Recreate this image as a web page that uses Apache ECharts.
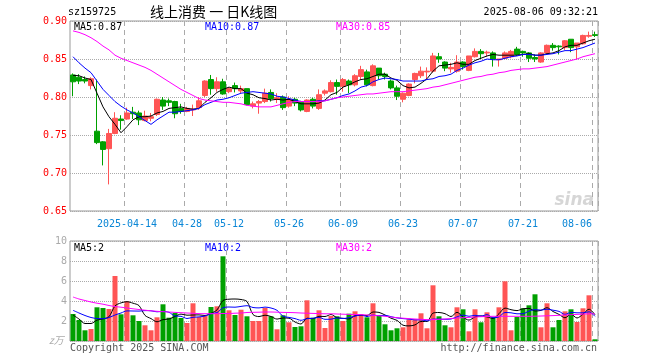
<!DOCTYPE html>
<html><head><meta charset="utf-8">
<script src="https://cdn.jsdelivr.net/npm/echarts@6/dist/echarts.min.js"></script>
<style>html,body{margin:0;padding:0;background:#fff}#c{width:660px;height:360px}</style>
</head><body><div id="c"></div>
<script>
const dates = ['2025-03-31','2025-04-01','2025-04-02','2025-04-03','2025-04-07','2025-04-08','2025-04-09','2025-04-10','2025-04-11',
'2025-04-14','2025-04-15','2025-04-16','2025-04-17','2025-04-18','2025-04-21','2025-04-22','2025-04-23','2025-04-24','2025-04-25',
'2025-04-28','2025-04-29','2025-04-30','2025-05-06','2025-05-07','2025-05-08','2025-05-09',
'2025-05-12','2025-05-13','2025-05-14','2025-05-15','2025-05-16','2025-05-19','2025-05-20','2025-05-21','2025-05-22','2025-05-23',
'2025-05-26','2025-05-27','2025-05-28','2025-05-29','2025-05-30','2025-06-03','2025-06-04','2025-06-05','2025-06-06',
'2025-06-09','2025-06-10','2025-06-11','2025-06-12','2025-06-13','2025-06-16','2025-06-17','2025-06-18','2025-06-19','2025-06-20',
'2025-06-23','2025-06-24','2025-06-25','2025-06-26','2025-06-27','2025-06-30','2025-07-01','2025-07-02','2025-07-03','2025-07-04',
'2025-07-07','2025-07-08','2025-07-09','2025-07-10','2025-07-11','2025-07-14','2025-07-15','2025-07-16','2025-07-17','2025-07-18',
'2025-07-21','2025-07-22','2025-07-23','2025-07-24','2025-07-25','2025-07-28','2025-07-29','2025-07-30','2025-07-31','2025-08-01',
'2025-08-04','2025-08-05','2025-08-06'];

const labelDates = ['2025-04-14','2025-04-28','2025-05-12','2025-05-26','2025-06-09','2025-06-23','2025-07-07','2025-07-21','2025-08-06'];

const opens = [0.829,0.826,0.823,0.815,0.755,0.741,0.732,0.752,0.771,0.771,0.780,0.779,0.769,0.772,0.777,0.796,0.795,0.794,0.785,0.781,
0.783,0.786,0.802,0.823,0.811,0.820,0.807,0.815,0.808,0.811,0.788,0.792,0.794,0.806,0.797,0.800,0.788,0.797,0.793,0.781,
0.797,0.785,0.805,0.807,0.819,0.814,0.821,0.816,0.827,0.833,0.815,0.838,0.830,0.821,0.812,0.797,0.802,0.823,0.828,0.833,
0.834,0.853,0.846,0.837,0.834,0.846,0.835,0.853,0.860,0.858,0.858,0.849,0.851,0.853,0.863,0.860,0.858,0.852,0.846,0.858,
0.868,0.867,0.865,0.876,0.866,0.870,0.880,0.882];
const closes = [0.820,0.821,0.821,0.824,0.740,0.731,0.752,0.772,0.769,0.779,0.778,0.770,0.775,0.774,0.797,0.788,0.793,0.778,0.781,0.785,
0.784,0.795,0.821,0.811,0.820,0.804,0.811,0.811,0.811,0.790,0.791,0.794,0.805,0.798,0.799,0.786,0.797,0.792,0.783,0.796,
0.788,0.803,0.808,0.819,0.814,0.823,0.816,0.828,0.836,0.816,0.841,0.828,0.827,0.812,0.801,0.805,0.817,0.831,0.834,0.834,
0.854,0.850,0.838,0.839,0.846,0.840,0.854,0.860,0.857,0.859,0.850,0.850,0.858,0.860,0.856,0.858,0.851,0.850,0.858,0.868,
0.865,0.866,0.874,0.865,0.871,0.881,0.881,0.881];
const lows = [0.801,0.817,0.818,0.810,0.738,0.710,0.685,0.751,0.757,0.770,0.771,0.763,0.768,0.768,0.775,0.783,0.788,0.772,0.778,0.780,
0.775,0.783,0.800,0.803,0.807,0.803,0.805,0.806,0.805,0.789,0.785,0.778,0.792,0.794,0.792,0.783,0.786,0.788,0.781,0.780,
0.785,0.783,0.802,0.806,0.803,0.807,0.805,0.814,0.823,0.814,0.814,0.823,0.823,0.810,0.796,0.793,0.801,0.818,0.825,0.823,
0.832,0.845,0.834,0.832,0.832,0.836,0.834,0.852,0.850,0.853,0.840,0.840,0.850,0.851,0.854,0.853,0.846,0.846,0.845,0.857,
0.861,0.856,0.862,0.859,0.850,0.869,0.878,0.879];
const highs = [0.831,0.830,0.827,0.826,0.823,0.742,0.758,0.780,0.776,0.786,0.787,0.782,0.782,0.779,0.798,0.800,0.798,0.795,0.791,0.787,
0.790,0.800,0.822,0.829,0.826,0.824,0.813,0.819,0.815,0.811,0.794,0.796,0.811,0.810,0.805,0.802,0.801,0.799,0.795,0.797,
0.799,0.810,0.810,0.822,0.823,0.825,0.823,0.830,0.841,0.836,0.843,0.838,0.832,0.823,0.815,0.806,0.818,0.832,0.840,0.839,
0.858,0.858,0.847,0.845,0.855,0.847,0.854,0.864,0.863,0.861,0.860,0.850,0.860,0.862,0.866,0.861,0.859,0.856,0.859,0.869,
0.871,0.868,0.875,0.876,0.871,0.882,0.886,0.886];

const ma5 = [0.8285,0.828,0.825,0.823,0.805,0.787,0.774,0.764,0.753,0.761,0.770,0.774,0.774,0.775,0.779,0.781,0.785,0.786,0.787,0.785,
0.784,0.785,0.793,0.799,0.806,0.810,0.813,0.811,0.811,0.805,0.803,0.799,0.798,0.796,0.797,0.796,0.797,0.794,0.791,0.791,
0.791,0.792,0.796,0.803,0.806,0.813,0.816,0.820,0.823,0.824,0.827,0.830,0.830,0.825,0.822,0.815,0.812,0.813,0.818,0.824,
0.834,0.841,0.842,0.843,0.845,0.843,0.843,0.848,0.851,0.854,0.856,0.855,0.855,0.855,0.855,0.856,0.857,0.855,0.855,0.857,
0.858,0.861,0.866,0.868,0.868,0.871,0.874,0.876];
const ma10 = [0.853,0.845,0.838,0.832,0.821,0.810,0.802,0.794,0.788,0.783,0.779,0.774,0.769,0.764,0.770,0.775,0.780,0.780,0.781,0.782,
0.783,0.785,0.790,0.793,0.796,0.797,0.799,0.802,0.805,0.806,0.807,0.806,0.805,0.804,0.801,0.800,0.798,0.796,0.794,0.794,
0.794,0.795,0.795,0.797,0.799,0.802,0.804,0.808,0.813,0.815,0.820,0.823,0.825,0.824,0.823,0.821,0.821,0.821,0.821,0.823,
0.824,0.827,0.828,0.830,0.835,0.838,0.842,0.845,0.847,0.850,0.849,0.849,0.851,0.853,0.854,0.856,0.856,0.855,0.855,0.856,
0.857,0.859,0.861,0.861,0.863,0.865,0.868,0.871];
const ma30 = [0.887,0.885,0.882,0.878,0.873,0.867,0.862,0.855,0.851,0.848,0.845,0.842,0.839,0.835,0.830,0.825,0.820,0.815,0.810,0.806,
0.802,0.798,0.796,0.795,0.794,0.793,0.793,0.792,0.791,0.789,0.788,0.787,0.787,0.787,0.789,0.791,0.793,0.794,0.794,0.794,
0.794,0.794,0.795,0.797,0.799,0.800,0.801,0.802,0.803,0.804,0.804,0.805,0.806,0.807,0.807,0.807,0.808,0.809,0.810,0.811,
0.813,0.814,0.816,0.818,0.820,0.822,0.824,0.826,0.827,0.829,0.830,0.832,0.833,0.835,0.836,0.837,0.837,0.838,0.839,0.840,
0.842,0.844,0.846,0.848,0.850,0.853,0.855,0.857];

const volumes = [2.7,2.1,1.07,1.2,3.37,3.3,3.2,6.5,2.67,3.97,2.57,2.0,1.57,1.07,2.37,3.67,2.33,2.8,2.3,1.8,
3.77,2.4,2.5,3.4,3.47,8.47,3.07,2.6,3.13,2.47,2.0,2.0,3.3,2.47,1.17,2.57,1.87,1.4,1.47,4.07,
2.33,3.07,1.3,2.5,2.47,2.0,2.73,2.97,2.67,2.37,3.77,2.53,1.67,1.07,1.27,1.37,2.17,2.17,2.77,1.27,
5.57,2.47,1.57,1.37,3.37,3.17,0.97,3.17,1.87,2.87,2.37,3.37,5.97,1.07,2.4,3.27,3.57,4.67,1.37,3.77,
1.37,2.1,2.97,3.17,1.9,3.27,4.57,0.17];
const volMa5 = [2.6,2.2,1.75,1.75,2.09,2.21,2.43,3.51,3.81,3.93,3.78,3.54,2.56,2.24,1.92,2.14,2.20,2.45,2.69,2.58,
2.60,2.61,2.55,2.77,3.11,4.05,4.18,4.20,4.15,3.95,2.65,2.44,2.58,2.45,2.19,2.30,2.28,1.90,1.70,2.28,
2.23,2.47,2.45,2.65,2.33,2.27,2.20,2.53,2.57,2.55,2.90,2.86,2.60,2.28,2.06,1.58,1.51,1.61,1.95,1.95,
2.79,2.85,2.73,2.45,2.87,2.39,2.09,2.41,2.51,2.41,2.25,2.73,3.29,3.13,3.04,3.22,3.26,3.00,3.06,3.33,
2.95,2.66,2.32,2.68,2.30,2.68,3.18,2.62];
const volMa10 = [3.07,2.8,2.55,2.35,2.25,2.23,2.35,2.6,2.8,3.01,3.00,2.99,3.04,3.02,2.92,2.96,2.87,2.50,2.47,2.25,
2.37,2.41,2.50,2.73,2.84,3.32,3.40,3.38,3.46,3.53,3.35,3.31,3.39,3.30,3.07,2.48,2.36,2.24,2.07,2.23,
2.27,2.37,2.17,2.18,2.31,2.25,2.33,2.49,2.61,2.44,2.59,2.53,2.57,2.43,2.31,2.24,2.19,2.11,2.12,2.01,
2.19,2.18,2.17,2.20,2.41,2.59,2.47,2.57,2.48,2.64,2.32,2.41,2.85,2.82,2.72,2.73,2.99,3.14,3.09,3.18,
3.08,2.96,2.66,2.87,2.82,2.82,2.92,2.47];
const volMa30 = [4.4,4.2,4.05,3.9,3.78,3.68,3.55,3.45,3.38,3.3,3.22,3.15,3.08,3.02,2.97,2.93,2.9,2.86,2.83,2.8,
2.77,2.74,2.73,2.73,2.73,2.75,2.75,2.78,2.8,2.85,2.87,2.88,2.9,2.9,2.88,2.86,2.85,2.83,2.8,2.78,
2.76,2.74,2.72,2.72,2.7,2.68,2.66,2.65,2.63,2.6,2.57,2.52,2.47,2.4,2.33,2.28,2.24,2.2,2.17,2.14,
2.14,2.17,2.2,2.25,2.3,2.33,2.36,2.4,2.43,2.45,2.47,2.47,2.47,2.47,2.47,2.47,2.47,2.48,2.5,2.52,
2.54,2.57,2.6,2.63,2.66,2.69,2.72,2.72];

const RED = '#ff5555', GREEN = '#00a000';
const MONO = '"DejaVu Sans Mono", monospace';
const labelIdx = labelDates.map(d => dates.indexOf(d));
const isTick = (i) => labelIdx.indexOf(i) >= 0;
const lastIdx = dates.length - 1;

const candleData = dates.map((d, i) => [opens[i], closes[i], lows[i], highs[i]]);
const volData = volumes.map((v, i) => ({value: v, itemStyle: {color: closes[i] >= opens[i] ? RED : GREEN}}));

const chart = echarts.init(document.getElementById('c'), null, {renderer: 'canvas'});
const splitX = {show: true, interval: (i) => isTick(i), lineStyle: {type: [5, 4], color: '#aaa', width: 1}};
const splitY = {show: true, lineStyle: {type: 'dotted', color: '#aaa', width: 1}};

const lineSeries = (data, color, xi) => ({
  type: 'line', data, xAxisIndex: xi, yAxisIndex: xi, symbol: 'none', showSymbol: false,
  lineStyle: {color, width: 1}, itemStyle: {color}, z: 5, silent: true
});

const txt = (text, x, y, fill, font, align) => ({
  type: 'text', silent: true,
  style: {text, x, y, fill, font: font || ('10px ' + MONO), textAlign: align || 'left', textVerticalAlign: 'middle'}
});

chart.setOption({
  animation: false,
  backgroundColor: '#fff',
  grid: [
    {left: 70, top: 21, width: 528, height: 190, show: true, borderColor: '#999', borderWidth: 1, backgroundColor: 'transparent'},
    {left: 70, top: 241, width: 528, height: 100, show: true, borderColor: '#999', borderWidth: 1, backgroundColor: 'transparent'}
  ],
  xAxis: [
    {type: 'category', gridIndex: 0, data: dates, boundaryGap: true,
     axisLine: {show: false}, axisTick: {show: false}, splitLine: splitX,
     axisLabel: {interval: (i) => isTick(i), margin: 8, color: '#0a86d6', fontFamily: MONO, fontSize: 10,
       formatter: (v, i) => i === labelIdx[0] ? v : (i === lastIdx ? '{e|' + v.slice(5) + '}' : v.slice(5)),
       rich: {e: {color: '#0a86d6', fontFamily: MONO, fontSize: 10, padding: [0, 36, 0, 0]}}}},
    {type: 'category', gridIndex: 1, data: dates, boundaryGap: true,
     axisLine: {show: false}, axisTick: {show: false}, axisLabel: {show: false}, splitLine: splitX}
  ],
  yAxis: [
    {type: 'value', gridIndex: 0, min: 0.65, max: 0.90, interval: 0.05, scale: true,
     axisLine: {show: false}, axisTick: {show: false}, splitLine: splitY,
     axisLabel: {color: '#ff0000', fontFamily: MONO, fontSize: 10, margin: 3, formatter: (v) => v.toFixed(2)}},
    {type: 'value', gridIndex: 1, min: 0, max: 10, interval: 2,
     axisLine: {show: false}, axisTick: {show: false}, splitLine: splitY,
     axisLabel: {color: '#aaa', fontFamily: MONO, fontSize: 10, margin: 3, formatter: (v) => v === 0 ? '' : String(v)}}
  ],
  series: [
    {type: 'candlestick', xAxisIndex: 0, yAxisIndex: 0, data: candleData, barWidth: 5, silent: true,
     itemStyle: {color: RED, color0: GREEN, borderColor: RED, borderColor0: GREEN, borderWidth: 1}},
    lineSeries(ma5, '#000000', 0),
    lineSeries(ma10, '#0000ff', 0),
    lineSeries(ma30, '#ff00ff', 0),
    {type: 'bar', xAxisIndex: 1, yAxisIndex: 1, data: volData, barWidth: 5, silent: true},
    Object.assign(lineSeries(volMa5, '#000000', 1), {smooth: 0.3}),
    Object.assign(lineSeries(volMa10, '#0000ff', 1), {smooth: 0.3}),
    Object.assign(lineSeries(volMa30, '#ff00ff', 1), {smooth: 0.3})
  ],
  graphic: [
    txt('sz159725', 68, 12, '#000'),
    txt('线上消费 一 日K线图', 150, 12, '#000', '14px "Noto Sans CJK SC"'),
    txt('2025-08-06 09:32:21', 598, 12, '#000', null, 'right'),
    txt('MA5:0.87', 74, 27, '#000'),
    txt('MA10:0.87', 205, 27, '#0000ff'),
    txt('MA30:0.85', 336, 27, '#ff00ff'),
    txt('sina', 594, 201, 'rgba(180,180,180,0.55)', 'italic bold 17px "DejaVu Sans"', 'right'),
    txt('MA5:2', 74, 248, '#000'),
    txt('MA10:2', 205, 248, '#0000ff'),
    txt('MA30:2', 336, 248, '#ff00ff'),
    txt('z万', 49, 340, '#aaa', 'italic 10px "Noto Sans CJK SC"'),
    txt('Copyright 2025 SINA.COM', 70, 348, '#555'),
    txt('http://finance.sina.com.cn', 597, 348, '#555', null, 'right')
  ]
});
</script></body></html>
